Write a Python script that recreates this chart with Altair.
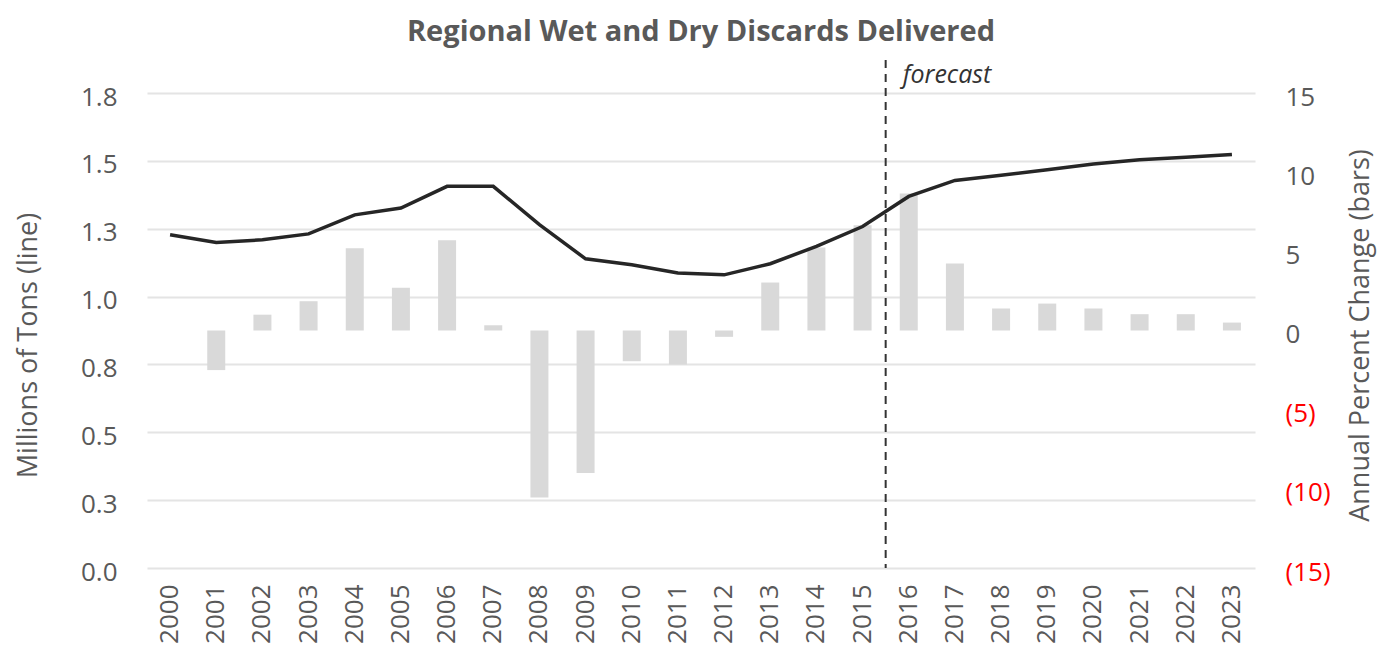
import altair as alt
import pandas as pd

years = ["2000", "2001", "2002", "2003", "2004", "2005", "2006", "2007",
         "2008", "2009", "2010", "2011", "2012", "2013", "2014", "2015",
         "2016", "2017", "2018", "2019", "2020", "2021", "2022", "2023"]
tons = [1.228, 1.199, 1.209, 1.231, 1.301, 1.326, 1.406, 1.406,
        1.265, 1.139, 1.117, 1.087, 1.080, 1.121, 1.185, 1.258,
        1.369, 1.428, 1.447, 1.467, 1.488, 1.504, 1.513, 1.523]
pct_change = [None, -2.5, 1.0, 1.85, 5.2, 2.7, 5.7, 0.33,
              -10.55, -9.0, -1.94, -2.15, -0.4, 3.03, 5.25, 6.65,
              8.66, 4.23, 1.39, 1.7, 1.39, 1.03, 1.03, 0.5]
left_ticks = [0.0, 0.25, 0.5, 0.75, 1.0, 1.25, 1.5, 1.75]
right_ticks = [-15, -10, -5, 0, 5, 10, 15]
last_actual_year = ["2015"]
first_forecast_year = ["2016"]
forecast_label = ["forecast"]

df = pd.DataFrame({"year": years, "tons": tons, "pct": pct_change})
rule_df = pd.DataFrame({"year": last_actual_year})
text_df = pd.DataFrame({"year": first_forecast_year, "label": forecast_label})

FONT = "Open Sans"
GREY = "#595959"

x_axis = alt.Axis(labelAngle=270, labelFontSize=26, labelColor=GREY, labelFont=FONT,
                  labelPadding=16, domain=False, ticks=False, grid=False, title=None)
x_scale = alt.Scale(paddingInner=0, paddingOuter=0)

bars = alt.Chart(df).mark_bar(color="#d9d9d9", size=18).encode(
    x=alt.X("year:N", sort=years, scale=x_scale, axis=x_axis),
    y=alt.Y("pct:Q", scale=alt.Scale(domain=[-15, 15], nice=False, zero=False),
            axis=alt.Axis(orient="right", values=right_ticks, grid=False, domain=False, ticks=False,
                          labelExpr="datum.value < 0 ? '(' + format(-datum.value, 'd') + ')' : format(datum.value, 'd')",
                          labelColor={"condition": {"test": "datum.value < 0", "value": "#ff0000"}, "value": GREY},
                          labelFontSize=26, labelFont=FONT, labelPadding=30, labelOffset=4,
                          title="Annual Percent Change (bars)", titleFontSize=27, titleFont=FONT,
                          titleColor=GREY, titleFontWeight="normal", titleAngle=270,
                          titleBaseline="top", titlePadding=17, titleY=242)),
)

line = alt.Chart(df).mark_line(color="#262626", strokeWidth=3.5).encode(
    x=alt.X("year:N", sort=years, scale=x_scale, axis=x_axis),
    y=alt.Y("tons:Q", scale=alt.Scale(domain=[0, 1.75], nice=False),
            axis=alt.Axis(orient="left", values=left_ticks, format=".1f", grid=True,
                          gridColor="#e4e4e4", gridWidth=2, domain=False, ticks=False,
                          labelFontSize=26, labelFont=FONT, labelColor=GREY, labelPadding=30,
                          labelOffset=4,
                          title="Millions of Tons (line)", titleFontSize=27, titleFont=FONT,
                          titleColor=GREY, titleFontWeight="normal", titlePadding=38,
                          titleY=252)),
)

rule = alt.Chart(rule_df).mark_rule(color="#333333", strokeWidth=2, strokeDash=[8, 6]).encode(
    x=alt.X("year:N", sort=years, scale=x_scale, bandPosition=1, axis=x_axis),
    y=alt.value(-33),
    y2=alt.value(475),
)

text = alt.Chart(text_df).mark_text(align="left", baseline="middle", dx=17, fontSize=25,
                                    fontStyle="italic", font=FONT, color="#333333").encode(
    x=alt.X("year:N", sort=years, scale=x_scale, bandPosition=0, axis=x_axis),
    y=alt.value(-18),
    text="label:N",
)

inner = alt.layer(line, rule, text)

chart = alt.layer(bars, inner).resolve_scale(y="independent").properties(
    width=1108,
    height=475,
    title=alt.Title("Regional Wet and Dry Discards Delivered", fontSize=29, fontWeight="bold",
                    color=GREY, font=FONT, anchor="middle", offset=12),
    autosize=alt.AutoSizeParams(type="none"),
    padding={"left": 139, "top": 85, "right": 124, "bottom": 82},
).configure_view(stroke=None)

chart.save("out.html", embed_options={"renderer": "svg", "actions": False})
